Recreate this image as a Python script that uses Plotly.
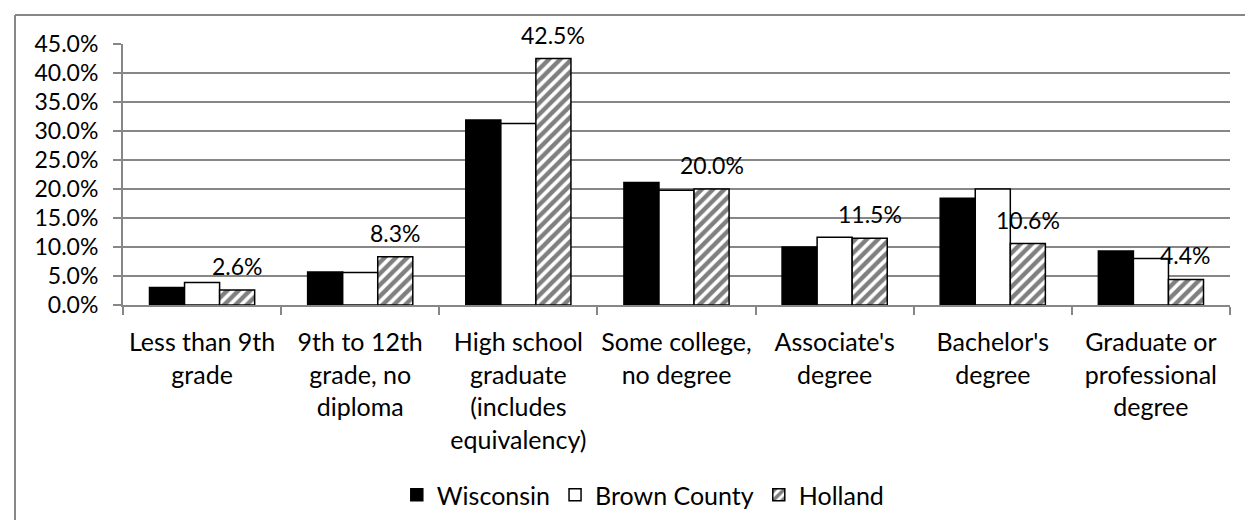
import plotly.graph_objects as go

categories = [
    "Less than 9th<br>grade",
    "9th to 12th<br>grade, no<br>diploma",
    "High school<br>graduate<br>(includes<br>equivalency)",
    "Some college,<br>no degree",
    "Associate's<br>degree",
    "Bachelor's<br>degree",
    "Graduate or<br>professional<br>degree",
]
wisconsin = [3.0, 5.7, 31.9, 21.1, 10.0, 18.4, 9.3]
brown_county = [3.9, 5.6, 31.3, 19.8, 11.7, 20.0, 8.0]
holland = [2.6, 8.3, 42.5, 20.0, 11.5, 10.6, 4.4]
y_ticks = [0, 5, 10, 15, 20, 25, 30, 35, 40, 45]

FONT = "Lato"
W, H = 1253, 520
ML, MR, MT, MB = 115, 31, 36, 223
BARGAP = 0.335
GRID = "#878787"

fig = go.Figure()
fig.add_trace(go.Bar(name="Wisconsin", x=categories, y=wisconsin,
                     marker=dict(color="black", line=dict(color="black", width=1.5))))
fig.add_trace(go.Bar(name="Brown County", x=categories, y=brown_county,
                     marker=dict(color="white", line=dict(color="black", width=1.5))))
fig.add_trace(go.Bar(name="Holland", x=categories, y=holland,
                     marker=dict(color="white", line=dict(color="black", width=1.5),
                                 pattern=dict(shape="/", fgcolor="black", bgcolor="white",
                                              size=8, solidity=0.55))))

plot_w = W - ML - MR
plot_h = H - MT - MB
bar_w = plot_w / len(categories) * (1 - BARGAP) / 3
for c, v in zip(categories, holland):
    fig.add_annotation(x=c, y=v, text=f"{v:.1f}%", showarrow=False,
                       xref="x", yref="y", xshift=bar_w, yshift=24,
                       font=dict(family=FONT, size=23, color="black"))

top_y = (H - 7 - MB) / plot_h
left_x = (7 - ML) / plot_w
fig.update_layout(
    width=W, height=H,
    margin=dict(l=ML, r=MR, t=MT, b=MB, autoexpand=False),
    paper_bgcolor="white", plot_bgcolor="white",
    barmode="group", bargap=BARGAP, bargroupgap=0,
    font=dict(family=FONT, size=25, color="black"),
    showlegend=True,
    legend=dict(orientation="h", x=0.47, xanchor="center", y=-0.728, yanchor="middle",
                font=dict(family=FONT, size=25, color="black"), traceorder="normal"),
    shapes=[
        dict(type="line", xref="paper", yref="paper", x0=left_x, x1=1.018,
             y0=top_y, y1=top_y, line=dict(color=GRID, width=2)),
        dict(type="line", xref="paper", yref="paper", x0=left_x, x1=left_x,
             y0=top_y, y1=-1.0, line=dict(color=GRID, width=2)),
    ],
)
fig.update_yaxes(range=[0, 45], tickvals=y_ticks, ticktext=[f"{t:.1f}%" for t in y_ticks],
                 tickfont=dict(family=FONT, size=23, color="black"),
                 showgrid=True, gridcolor=GRID, gridwidth=2,
                 showline=True, linecolor=GRID, linewidth=2,
                 ticks="outside", ticklen=8, tickcolor=GRID, tickwidth=2,
                 ticklabelstandoff=10, zeroline=False)
fig.update_xaxes(showline=True, linecolor=GRID, linewidth=2,
                 ticks="outside", ticklen=8, tickcolor=GRID, tickwidth=2,
                 tickson="boundaries", tickangle=0, ticklabelstandoff=14,
                 tickfont=dict(family=FONT, size=25, color="black"))

fig.write_html("out.html")
